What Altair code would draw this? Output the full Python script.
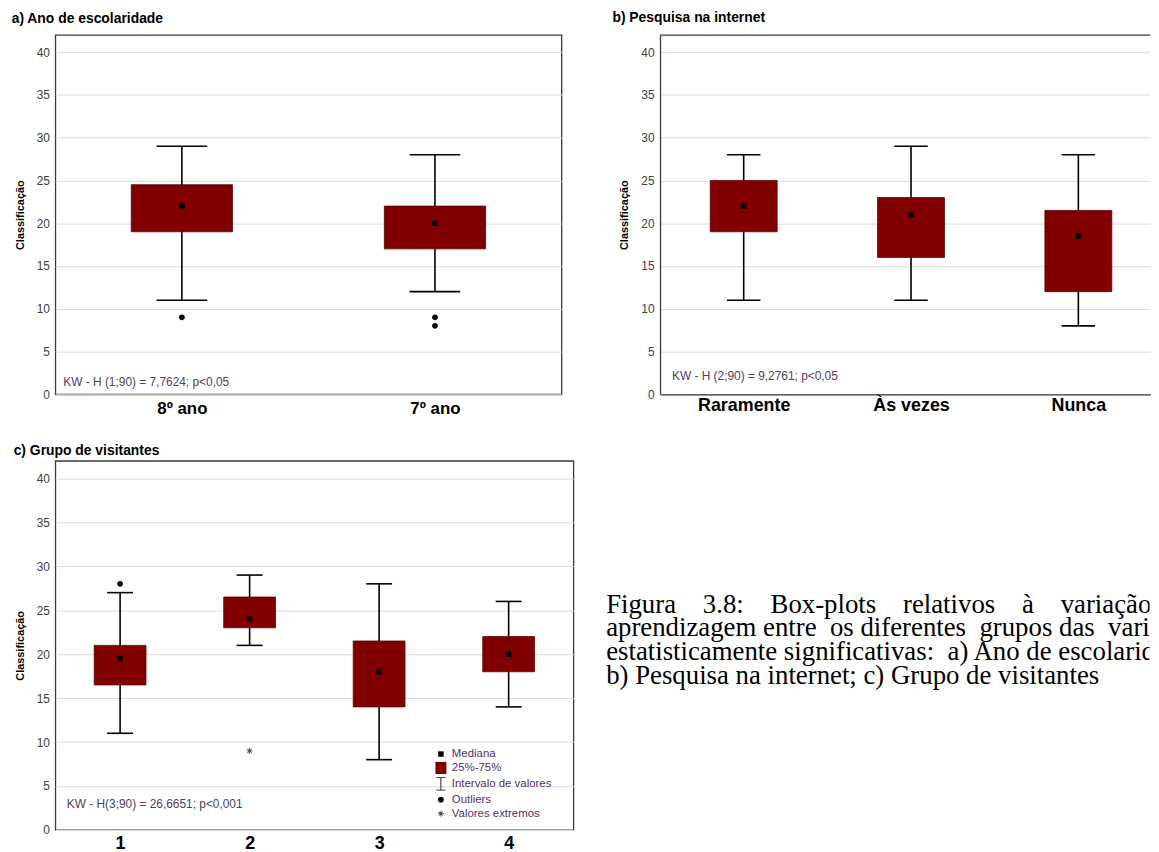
import json
import math
import altair as alt
import pandas as pd

# ---------------- data ----------------
a_labels = ["8º ano", "7º ano"]
a_min = [11, 12]
a_q1 = [19, 17]
a_med = [22, 20]
a_q3 = [24.5, 22]
a_max = [29, 28]
a_out_pos = [1, 2, 2]
a_out_val = [9, 9, 8]

b_labels = ["Raramente", "Às vezes", "Nunca"]
b_min = [11, 11, 8]
b_q1 = [19, 16, 12]
b_med = [22, 21, 18.5]
b_q3 = [25, 23, 21.5]
b_max = [28, 29, 28]

c_labels = ["1", "2", "3", "4"]
c_min = [11, 21, 8, 14]
c_q1 = [16.5, 23, 14, 18]
c_med = [19.5, 24, 18, 20]
c_q3 = [21, 26.5, 21.5, 22]
c_max = [27, 29, 28, 26]
c_out_pos = [1]
c_out_val = [28]
c_ext_pos = [2]
c_ext_val = [9]

y_ticks = [0, 5, 10, 15, 20, 25, 30, 35, 40]
legend_labels = ["Mediana", "25%-75%", "Intervalo de valores", "Outliers", "Valores extremos"]

kw_a = "KW - H (1;90) = 7,7624; p<0,05"
kw_b = "KW - H (2;90) = 9,2761; p<0,05"
kw_c = "KW - H(3;90) = 26,6651; p<0,001"

NB4 = "\u00a0" * 4
caption_lines = [
    "Figura" + NB4 + "3.8:" + NB4 + "Box-plots" + NB4 + "relativos" + NB4 + "à" + NB4 + "variação" + NB4 + "da",
    "aprendizagem entre\u00a0 os diferentes\u00a0 grupos das\u00a0 variáveis",
    "estatisticamente significativas:\u00a0 a) Ano de escolaridade;",
    "b) Pesquisa na internet; c) Grupo de visitantes",
]

# ---------------- styling ----------------
FONT = "Liberation Sans"
SERIF = "Liberation Serif"
BOX = "#800000"
KW_COLOR = "#4f4060"
LEG_COLOR = "#55306a"
FRAME = "#3a3a3a"
FRAME_W = 1.3


def rect_path(hw, hh):
    return f"M{-hw},{-hh}H{hw}V{hh}H{-hw}Z"


def circle_path(r):
    return f"M{r},0A{r},{r} 0 1,1 {-r},0A{r},{r} 0 1,1 {r},0Z"


def ibeam_path(cap, stem, th, hh):
    return (f"M{-cap},{-hh}H{cap}V{-hh + th}H{stem}V{hh - th}H{cap}V{hh}"
            f"H{-cap}V{hh - th}H{-stem}V{-hh + th}H{-cap}Z")


def asterisk_path(arm, th):
    parts = []
    for ang in (0, 45, 90, 135):
        a = math.radians(ang)
        dx, dy = math.cos(a), math.sin(a)
        px, py = -dy, dx
        pts = [(-arm * dx - th * px, -arm * dy - th * py),
               (arm * dx - th * px, arm * dy - th * py),
               (arm * dx + th * px, arm * dy + th * py),
               (-arm * dx + th * px, -arm * dy + th * py)]
        parts.append("M" + "L".join(f"{x:.3f},{y:.3f}" for x, y in pts) + "Z")
    return "".join(parts)


shape_range = [
    rect_path(0.45, 0.45),
    rect_path(0.9, 1.0),
    ibeam_path(0.75, 0.07, 0.13, 1.1),
    circle_path(0.48),
    asterisk_path(0.5, 0.065),
]
color_range = ["black", BOX, "black", "black", "#444444"]


def panel(labels, mins, q1s, meds, q3s, maxs, extra_pos, extra_val, extra_type,
          title, title_dx, title_off, kw, kw_x, kw_y, w, h,
          label_size, label_pad, legend=False, x_hi=None):
    n = len(labels)
    pos = list(range(1, n + 1))
    open_right = x_hi is not None
    if x_hi is None:
        x_hi = n + 0.5
    df = pd.DataFrame({"pos": pos, "lo": mins, "q1": q1s, "med": meds,
                       "q3": q3s, "hi": maxs})
    pts = pd.DataFrame({"pos": pos + extra_pos, "val": meds + extra_val,
                        "tipo": ["Mediana"] * n + extra_type})

    xscale = alt.Scale(domain=[0.5, x_hi], nice=False, zero=False)
    xaxis = alt.Axis(values=pos,
                     labelExpr=json.dumps(labels, ensure_ascii=False) + "[round(datum.value) - 1]",
                     title=None, grid=False, ticks=False, domain=open_right,
                     domainColor=FRAME, domainWidth=FRAME_W,
                     labelFont=FONT, labelFontSize=label_size, labelFontWeight="bold",
                     labelColor="black", labelPadding=label_pad, labelFlush=False)
    yscale = alt.Scale(domain=[0, 42], nice=False, zero=False)
    yaxis = alt.Axis(values=y_ticks, title="Classificação", titleFont=FONT,
                     titleFontSize=11, titleFontWeight="bold", titleColor="black",
                     titlePadding=11, labelFont=FONT, labelFontSize=12,
                     labelColor="#404040", labelPadding=6, grid=True,
                     gridColor="#dcdcdc", gridWidth=1, ticks=False,
                     domain=open_right, domainColor=FRAME, domainWidth=FRAME_W)

    def X(f):
        return alt.X(f, type="quantitative", scale=xscale, axis=xaxis)

    def Y(f):
        return alt.Y(f, type="quantitative", scale=yscale, axis=yaxis)

    base = alt.Chart(df)
    whisk = base.mark_rule(color="black", strokeWidth=1.6).encode(
        x=X("pos"), y=Y("lo"), y2="hi")
    capped = base.transform_calculate(cl="datum.pos - 0.1", cr="datum.pos + 0.1")
    cap_hi = capped.mark_rule(color="black", strokeWidth=1.6).encode(
        x=X("cl"), x2="cr", y=Y("hi"))
    cap_lo = capped.mark_rule(color="black", strokeWidth=1.6).encode(
        x=X("cl"), x2="cr", y=Y("lo"))
    boxes = base.transform_calculate(bl="datum.pos - 0.2", br="datum.pos + 0.2").mark_rect(
        color=BOX, stroke="#5a0000", strokeWidth=0.8).encode(
        x=X("bl"), x2="br", y=Y("q1"), y2="q3")

    if legend:
        leg = alt.Legend(title=None, orient="none", legendX=382, legendY=289,
                         symbolSize=150, padding=0, rowPadding=2,
                         labelOffset=4.5, labelFont=FONT, labelFontSize=11.5,
                         labelColor=LEG_COLOR, symbolStrokeWidth=0)
    else:
        leg = None
    points = alt.Chart(pts).mark_point(filled=True, opacity=1, size=150, strokeWidth=0).encode(
        x=X("pos"), y=Y("val"),
        shape=alt.Shape("tipo:N", scale=alt.Scale(domain=legend_labels, range=shape_range), legend=leg),
        color=alt.Color("tipo:N", scale=alt.Scale(domain=legend_labels, range=color_range), legend=leg),
    )
    kwtext = alt.Chart(pd.DataFrame({"k": [0]})).mark_text(
        text=kw, align="left", baseline="alphabetic", font=FONT, fontSize=12,
        color=KW_COLOR).encode(x=alt.value(kw_x), y=alt.value(kw_y))

    layers = [whisk, cap_hi, cap_lo, boxes, points, kwtext]
    props = dict(
        width=w, height=h,
        title=alt.Title(title, anchor="start", frame="group", dx=title_dx,
                        offset=title_off, baseline="alphabetic", font=FONT,
                        fontSize=14, fontWeight="bold", color="black"),
    )
    if open_right:
        # the panel runs past the page edge: no right-hand border, top border drawn as a rule
        top_border = alt.Chart(pd.DataFrame({"k": [0]})).mark_rule(
            color=FRAME, strokeWidth=FRAME_W).encode(
            x=alt.value(0), x2=alt.value(w), y=alt.value(0))
        layers.append(top_border)
    else:
        props["view"] = alt.ViewBackground(stroke=FRAME, strokeWidth=FRAME_W)
    return alt.layer(*layers).properties(**props)


pa = panel(a_labels, a_min, a_q1, a_med, a_q3, a_max, a_out_pos, a_out_val,
           ["Outliers"] * len(a_out_pos), "a) Ano de escolaridade", -44, -2.0,
           kw_a, 8, 354, 510, 362, 17, 6)
pb = panel(b_labels, b_min, b_q1, b_med, b_q3, b_max, [], [], [],
           "b) Pesquisa na internet", -48, -2.0, kw_b, 12, 348, 494, 362, 18, 2.5,
           x_hi=3.43)
pc = panel(c_labels, c_min, c_q1, c_med, c_q3, c_max, c_out_pos + c_ext_pos,
           c_out_val + c_ext_val, ["Outliers"] * len(c_out_pos) + ["Valores extremos"] * len(c_ext_pos),
           "c) Grupo de visitantes", -42, -8.0, kw_c, 11.5, 349.5, 522, 372, 18, 5,
           legend=True)

cap = alt.Chart(pd.DataFrame({"k": [0]})).mark_text(
    text=caption_lines, align="left", baseline="alphabetic", font=SERIF,
    fontSize=27, lineHeight=24, color="black", clip=True).encode(
    x=alt.value(0.5), y=alt.value(153)).properties(width=548, height=372)

row1 = alt.hconcat(pa, pb, spacing=99.3, bounds="flush").resolve_scale(
    color="independent", shape="independent", x="independent", y="independent")
row2 = alt.hconcat(pc, cap, spacing=32.5, bounds="flush").resolve_scale(
    color="independent", shape="independent", x="independent", y="independent")

chart = alt.vconcat(row1, row2, spacing=26, bounds="full").resolve_scale(
    color="independent", shape="independent", x="independent", y="independent"
).properties(
    padding={"left": 2.7, "top": 0, "right": 0, "bottom": 0},
    background="white",
).configure_view(stroke="transparent", strokeWidth=0)

chart.save("out.html", embed_options={"renderer": "svg", "actions": False})
